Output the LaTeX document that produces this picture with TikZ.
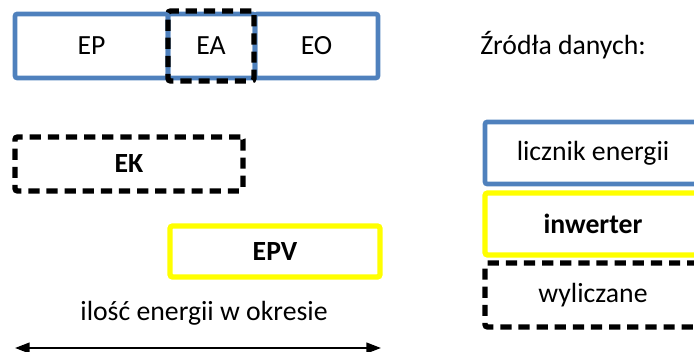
\documentclass[tikz,border=0pt]{standalone}
\usepackage{fontspec}
\setmainfont{Carlito}
\usepackage{xcolor}
\usetikzlibrary{arrows.meta,positioning}
\definecolor{meterblue}{HTML}{4F81BD}
\definecolor{pvyellow}{HTML}{FFFF00}

\begin{document}
\begin{tikzpicture}[
x=0.75pt, y=-0.75pt,
font=\fontsize{20.8}{25}\selectfont,
bluebox/.style={draw=meterblue, line width=3.4pt, rounded corners=1.5pt, minimum height=64pt*0.75, inner sep=0pt},
dashbox/.style={draw=black, line width=4.1pt, dash pattern=on 8.4pt off 5.2pt, rounded corners=2pt, inner sep=0pt},
yellowbox/.style={draw=pvyellow, line width=4pt, rounded corners=2pt, inner sep=0pt},
arrow/.style={{Triangle[length=11pt,width=8pt]}-{Triangle[length=11pt,width=8pt]}, line width=1.6pt}
]
\useasboundingbox (0,0) rectangle (694,352);
% bilans z licznika
\node[bluebox, minimum width=153*0.75pt] (ep) at (91.5,46) {EP};
\node[bluebox, minimum width=87*0.75pt] (eacell) at (211.5,46) {};
\node[bluebox, minimum width=123*0.75pt] (eo) at (316.5,46) {EO};
\node[dashbox, minimum width=86*0.75pt, minimum height=70*0.75pt] (ea) at (211,46) {EA};
% konsumpcja i produkcja
\node[dashbox, minimum width=228*0.75pt, minimum height=54*0.75pt, font=\fontsize{20.8}{25}\selectfont\bfseries] (ek) at (129,164) {EK};
\node[yellowbox, minimum width=210*0.75pt, minimum height=51*0.75pt, font=\fontsize{20.8}{25}\selectfont\bfseries] (epv) at (275,251.5) {EPV};
\node (okres) at (204,313) {ilość energii w okresie};
\coordinate (okresL) at (15,348);
\coordinate (okresR) at (381,348);
\draw[arrow] (okresL) -- (okresR);
% legenda
\node[anchor=west, inner sep=0pt] (zrodla) at (480,45) {Źródła danych:};
\node[bluebox, minimum width=216*0.75pt, minimum height=62*0.75pt] (licznik) at (593,153) {licznik energii};
\node[yellowbox, minimum width=216*0.75pt, minimum height=62*0.75pt, font=\fontsize{20.8}{25}\selectfont\bfseries] (inwerter) at (593,224) {inwerter};
\node[dashbox, minimum width=216*0.75pt, minimum height=64*0.75pt] (wyliczane) at (593,295) {wyliczane};
\end{tikzpicture}
\end{document}
